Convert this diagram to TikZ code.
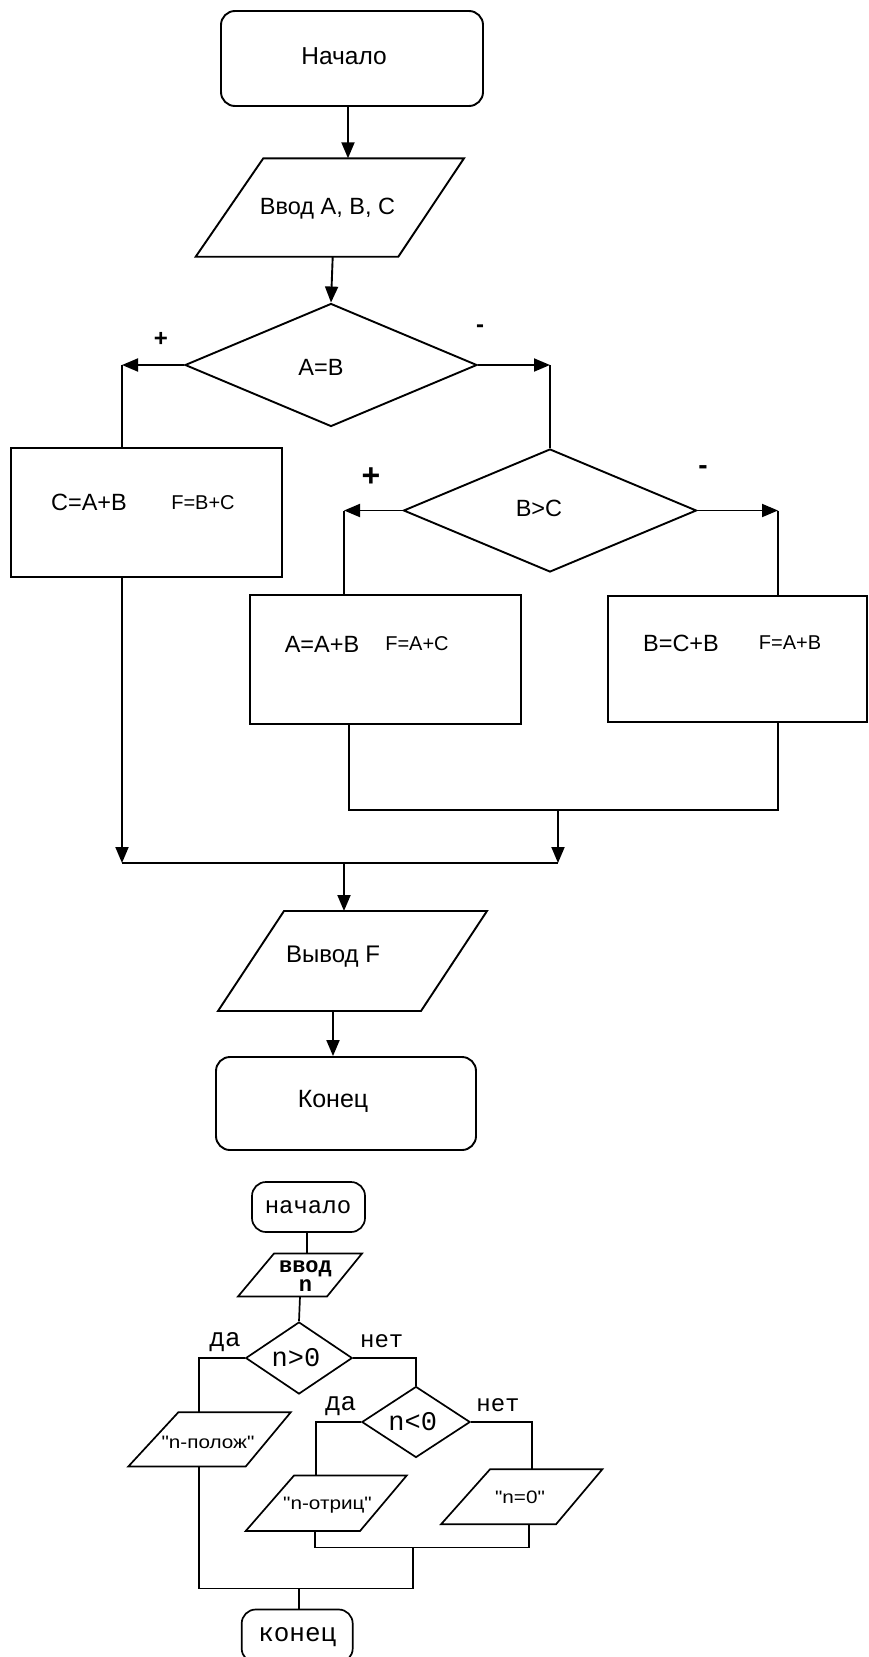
\documentclass[tikz,border=0pt]{standalone}
\usepackage{fontspec}
\setmainfont{Liberation Sans}
\newfontfamily\monof{Liberation Mono}
\newfontfamily\qf[FakeStretch=1.15]{Liberation Sans}
\usetikzlibrary{arrows.meta,shapes.geometric}
\tikzset{
  ln/.style={line width=1.9pt},
  lnb/.style={line width=1.7pt},
  arr/.style={ln,-{Triangle[length=16pt,width=13pt]}},
  term/.style={draw,ln,rounded corners=14pt,inner sep=0pt},
  boxn/.style={draw,ln,inner sep=0pt},
  dia/.style={draw,ln,diamond,inner sep=0pt},
  tbig/.style={inner sep=0pt,font=\fontsize{23.5}{26}\selectfont},
  tsm/.style={inner sep=0pt,font=\fontsize{20}{22}\selectfont},
  sgn/.style={inner sep=0pt,font=\bfseries\fontsize{24}{26}\selectfont},
  bterm/.style={draw,lnb,rounded corners=14pt,inner sep=0pt},
  bdia/.style={draw,lnb,diamond,inner sep=0pt},
  mono/.style={inner sep=0pt,font=\monof\fontsize{26}{28}\selectfont},
  qlab/.style={inner sep=0pt,font=\qf\fontsize{18}{20}\selectfont},
}
\begin{document}
\begin{tikzpicture}[x=1pt,y=-1pt]
\useasboundingbox (0,0) rectangle (869,1657);
\fill[white] (0,0) rectangle (869,1657);
\clip (0,0) rectangle (869,1657);

% ---------------- upper flowchart ----------------
\node[term,minimum width=262pt,minimum height=95pt] (start) at (352,58.5) {};
\node[tbig,font=\fontsize{24.5}{26}\selectfont] (startt) at (344,56) {Начало};

\coordinate (in1tl) at (263.3,158.3);
\coordinate (in1tr) at (464,158.3);
\coordinate (in1br) at (398.3,256.7);
\coordinate (in1bl) at (195.7,256.7);
\draw[ln] (in1tl) -- (in1tr) -- (in1br) -- (in1bl) -- cycle;
\node[tbig] (in1) at (327.5,209) {Ввод A, B, C};
\coordinate (in1t) at (348,158.3);
\coordinate (in1b) at (332.7,256.7);

\node[dia,minimum width=292pt,minimum height=123pt] (d1) at (331,365) {};
\node[tbig] (d1t) at (321,367) {A=B};
\node[sgn] (plus1) at (161,339) {+};
\node[sgn] (minus1) at (480,329) {-};

\coordinate (c1) at (122,365);
\coordinate (c2) at (550,365);

\node[dia,minimum width=293pt,minimum height=123pt] (d2) at (550,510.5) {};
\node[tbig] (d2t) at (539,508) {B>C};
\node[sgn,font=\bfseries\fontsize{32}{34}\selectfont] (plus2) at (371,477) {+};
\node[sgn,font=\bfseries\fontsize{28}{30}\selectfont] (minus2) at (703,470) {-};

\coordinate (c3) at (344,510.5);
\coordinate (c4) at (778,510.5);

\node[boxn,minimum width=271pt,minimum height=129pt] (box1) at (146.5,512.5) {};
\node[tbig] (box1a) at (89,502) {C=A+B};
\node[tsm] (box1b) at (203,503) {F=B+C};

\node[boxn,minimum width=271pt,minimum height=129pt] (box2) at (385.5,659.5) {};
\node[tbig] (box2a) at (322,644) {A=A+B};
\node[tsm] (box2b) at (417,644) {F=A+C};

\node[boxn,minimum width=259pt,minimum height=126pt] (box3) at (737.5,659) {};
\node[tbig] (box3a) at (681,643) {B=C+B};
\node[tsm] (box3b) at (790,643) {F=A+B};

\coordinate (m1) at (349,810);
\coordinate (m2) at (778,810);
\coordinate (j2) at (558,810);
\coordinate (j3) at (558,863);
\coordinate (j4) at (122,863);
\coordinate (j5) at (344,863);

\coordinate (outtl) at (284,911);
\coordinate (outtr) at (487,911);
\coordinate (outbr) at (421,1011);
\coordinate (outbl) at (218,1011);
\draw[ln] (outtl) -- (outtr) -- (outbr) -- (outbl) -- cycle;
\node[tbig,font=\fontsize{24}{26}\selectfont] (out) at (333,957) {Вывод F};
\coordinate (outt) at (344,911);
\coordinate (outb) at (333,1011);

\node[term,minimum width=260pt,minimum height=93pt] (end) at (346,1103.5) {};
\node[tbig,font=\fontsize{25}{26}\selectfont] (endt) at (333,1101) {Конец};

% connectors (upper)
\draw[arr] (start.south -| in1t) -- (in1t);
\draw[arr] (in1b) -- (d1.north);
\draw[arr] (d1.west) -- (c1);
\draw[ln] (c1) -- (c1 |- box1.north);
\draw[arr] (d1.east) -- (c2);
\draw[ln] (c2) -- (d2.north);
\draw[arr] (d2.west) -- (c3);
\draw[ln] (c3) -- (c3 |- box2.north);
\draw[arr] (d2.east) -- (c4);
\draw[ln] (c4) -- (c4 |- box3.north);
\draw[ln] (box2.south -| m1) -- (m1) -- (m2) -- (box3.south -| m2);
\draw[arr] (j2) -- (j3);
\draw[arr] (box1.south -| j4) -- (j4);
\draw[ln] (j4) -- (j3);
\draw[arr] (j5) -- (outt);
\draw[arr] (outb) -- (end.north -| outb);

% ---------------- lower flowchart ----------------
\node[bterm,minimum width=113pt,minimum height=50pt] (s2) at (308.5,1207) {};
\node[mono,font=\monof\fontsize{24}{26}\selectfont] (s2t) at (308,1207) {начало};

\coordinate (in2tl) at (274,1253.5);
\coordinate (in2tr) at (362,1253.5);
\coordinate (in2br) at (327,1296.5);
\coordinate (in2bl) at (238,1296.5);
\draw[lnb] (in2tl) -- (in2tr) -- (in2br) -- (in2bl) -- cycle;
\node[mono,font=\monof\bfseries\fontsize{22}{19}\selectfont,align=center] (in2) at (305.5,1276) {ввод\\n};
\coordinate (in2t) at (307,1253.5);
\coordinate (in2b) at (300,1296.5);

\node[bdia,minimum width=106.6pt,minimum height=72pt] (d3) at (299,1358) {};
\node[mono,font=\monof\fontsize{27}{28}\selectfont] (d3t) at (296,1358) {n>0};
\node[mono] (da1) at (225,1342) {да};
\node[mono,font=\monof\fontsize{24}{26}\selectfont] (net1) at (381.7,1341) {нет};

\coordinate (e1) at (199,1358);
\coordinate (e2) at (416,1358);

\node[bdia,minimum width=108.3pt,minimum height=71pt] (d4) at (416,1422) {};
\node[mono,font=\monof\fontsize{27}{28}\selectfont] (d4t) at (412.7,1422) {n<0};
\node[mono] (da2) at (340.7,1406) {да};
\node[mono,font=\monof\fontsize{24}{26}\selectfont] (net2) at (498,1405) {нет};

\coordinate (e3) at (316,1422);
\coordinate (e4) at (532,1422);

\coordinate (p1tl) at (178.3,1412.3);
\coordinate (p1tr) at (290.7,1412.3);
\coordinate (p1br) at (245.7,1466.5);
\coordinate (p1bl) at (128.3,1466.5);
\draw[lnb] (p1tl) -- (p1tr) -- (p1br) -- (p1bl) -- cycle;
\node[qlab] (p1) at (208,1442) {"n-полож"};

\coordinate (p2tl) at (294,1475.5);
\coordinate (p2tr) at (406.7,1475.5);
\coordinate (p2br) at (360,1531);
\coordinate (p2bl) at (245.7,1531);
\draw[lnb] (p2tl) -- (p2tr) -- (p2br) -- (p2bl) -- cycle;
\node[qlab] (p2) at (327.5,1505) {"n-отриц"};

\coordinate (p3tl) at (490,1469.3);
\coordinate (p3tr) at (602.3,1469.3);
\coordinate (p3br) at (556,1524.3);
\coordinate (p3bl) at (441,1524.3);
\draw[lnb] (p3tl) -- (p3tr) -- (p3br) -- (p3bl) -- cycle;
\node[qlab] (p3) at (520,1497) {"n=0"};

\coordinate (f1) at (315,1547.5);
\coordinate (f2) at (529,1547.5);
\coordinate (f3) at (413,1547.5);
\coordinate (f4) at (413,1588.5);
\coordinate (f5) at (199,1588.5);
\coordinate (f6) at (299.3,1588.5);

\node[bterm,minimum width=111pt,minimum height=53pt] (e2n) at (297.2,1636) {};
\node[mono] (e2t) at (297.3,1636.7) {конец};

% connectors (lower)
\draw[lnb] (s2.south -| in2t) -- (in2t);
\draw[lnb] (in2b) -- (d3.north);
\draw[lnb] (d3.west) -- (e1) -- (e1 |- p1tl);
\draw[lnb] (d3.east) -- (e2) -- (d4.north);
\draw[lnb] (d4.west) -- (e3) -- (e3 |- p2tl);
\draw[lnb] (d4.east) -- (e4) -- (e4 |- p3tl);
\draw[lnb] (f1 |- p2bl) -- (f1) -- (f2) -- (f2 |- p3bl);
\draw[lnb] (f3) -- (f4) -- (f5);
\draw[lnb] (f5 |- p1bl) -- (f5);
\draw[lnb] (f6) -- (e2n.north -| f6);
\end{tikzpicture}
\end{document}
